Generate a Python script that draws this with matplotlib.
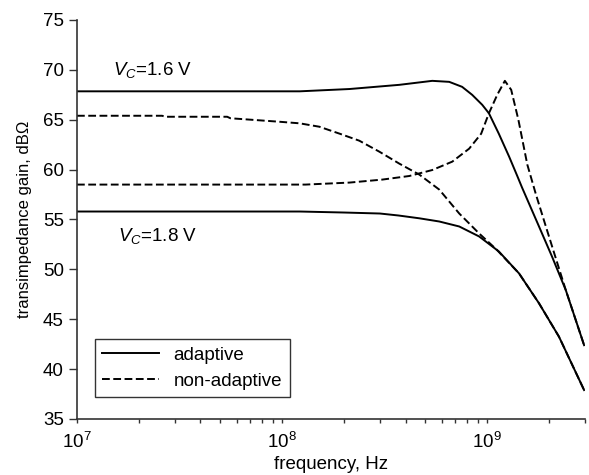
import matplotlib
matplotlib.use("Agg")
import matplotlib.pyplot as plt
from matplotlib.ticker import LogLocator, FixedLocator

plt.rcParams['font.family'] = ['Liberation Sans', 'DejaVu Sans']
plt.rcParams['mathtext.fontset'] = 'custom'
plt.rcParams['mathtext.rm'] = 'Liberation Sans'
plt.rcParams['mathtext.it'] = 'Liberation Sans:italic'

# adaptive, Vc = 1.6 V
f_a16 = [1e7, 1.22e8, 2.13e8, 3.73e8, 5.40e8, 6.53e8, 7.55e8, 8.45e8, 9.46e8,
         1.02e9, 1.14e9, 1.28e9, 1.40e9, 1.48e9, 1.79e9, 2.07e9, 2.42e9, 2.97e9]
g_a16 = [67.85, 67.85, 68.08, 68.5, 68.9, 68.8, 68.3, 67.5, 66.5,
         65.65, 63.6, 61.3, 59.4, 58.2, 54.3, 51.3, 47.9, 42.4]

# adaptive, Vc = 1.8 V
f_a18 = [1e7, 1.22e8, 2.0e8, 3.0e8, 3.7e8, 4.67e8, 5.84e8, 7.31e8, 9.14e8,
         1.14e9, 1.43e9, 1.79e9, 2.24e9, 2.97e9]
g_a18 = [55.8, 55.8, 55.7, 55.6, 55.4, 55.12, 54.8, 54.3, 53.3,
         51.8, 49.6, 46.6, 43.25, 37.9]

# non-adaptive, starting at 65.4 dB
f_n16 = [1e7, 2.6e7, 2.7e7, 5.4e7, 5.6e7, 9.7e7, 1.22e8, 1.52e8, 1.91e8,
         2.38e8, 2.98e8, 3.73e8, 4.67e8, 5.84e8, 7.31e8, 9.14e8, 1.11e9,
         1.43e9, 1.79e9, 2.24e9, 2.97e9]
g_n16 = [65.4, 65.4, 65.3, 65.3, 65.15, 64.8, 64.64, 64.3, 63.6,
         62.9, 61.8, 60.6, 59.5, 58.0, 55.6, 53.6, 52.0,
         49.6, 46.6, 43.25, 37.9]

# non-adaptive, starting at 58.5 dB (peaking)
f_n18 = [1e7, 1.3e8, 2.13e8, 3.08e8, 4.17e8, 5.40e8, 6.76e8, 8.17e8, 9.35e8,
         1.02e9, 1.12e9, 1.22e9, 1.31e9, 1.42e9, 1.57e9, 1.73e9, 1.94e9,
         2.17e9, 2.42e9, 2.97e9]
g_n18 = [58.5, 58.5, 58.7, 59.0, 59.36, 59.96, 60.8, 62.1, 63.6,
         65.65, 67.5, 68.9, 68.0, 65.0, 60.5, 57.5, 54.2,
         51.0, 47.9, 42.4]

legend_labels = ["adaptive", "non-adaptive"]

fig = plt.figure(figsize=(5.89, 4.75), dpi=100)
ax = fig.add_axes([0.1307, 0.1179, 0.8625, 0.84])

lw = 1.4
ax.plot(f_a16, g_a16, color='black', lw=lw, label=legend_labels[0])
ax.plot(f_a18, g_a18, color='black', lw=lw)
ax.plot(f_n16, g_n16, color='black', lw=lw, dashes=(4, 1.8), label=legend_labels[1])
ax.plot(f_n18, g_n18, color='black', lw=lw, dashes=(4, 1.8))

ax.set_xscale('log')
ax.set_xlim(1e7, 3e9)
ax.set_ylim(35, 75)
ax.yaxis.set_major_locator(FixedLocator([35, 40, 45, 50, 55, 60, 65, 70, 75]))
ax.xaxis.set_major_locator(LogLocator(base=10))
ax.xaxis.set_minor_locator(LogLocator(base=10, subs=range(2, 10)))

for s in ['top', 'right']:
    ax.spines[s].set_visible(False)
for s in ['left', 'bottom']:
    ax.spines[s].set_color('#333333')
    ax.spines[s].set_linewidth(1.2)

fs = 13.5
ax.tick_params(axis='y', direction='out', length=6, width=1, labelsize=fs, color='#333333')
ax.tick_params(axis='x', which='major', direction='out', length=3, width=1, labelsize=fs,
               color='#333333', pad=6)
ax.tick_params(axis='x', which='minor', direction='out', length=3, width=1, color='#333333')

ax.set_xlabel('frequency, Hz', fontsize=fs, labelpad=3)
ax.set_ylabel('transimpedance gain, dBΩ', fontsize=12, labelpad=8)

ax.text(1.5e7, 70.0, r'$V_C$=1.6 V', fontsize=fs, va='center', ha='left')
ax.text(1.58e7, 53.3, r'$V_C$=1.8 V', fontsize=fs, va='center', ha='left')

leg = ax.legend(loc='lower left', bbox_to_anchor=(0.035, 0.055), fontsize=fs,
                frameon=True, fancybox=False, edgecolor='black', handlelength=3.0,
                borderpad=0.4, labelspacing=0.45, borderaxespad=0)
leg.get_frame().set_linewidth(1.0)

fig.savefig('out.png', dpi=100)
